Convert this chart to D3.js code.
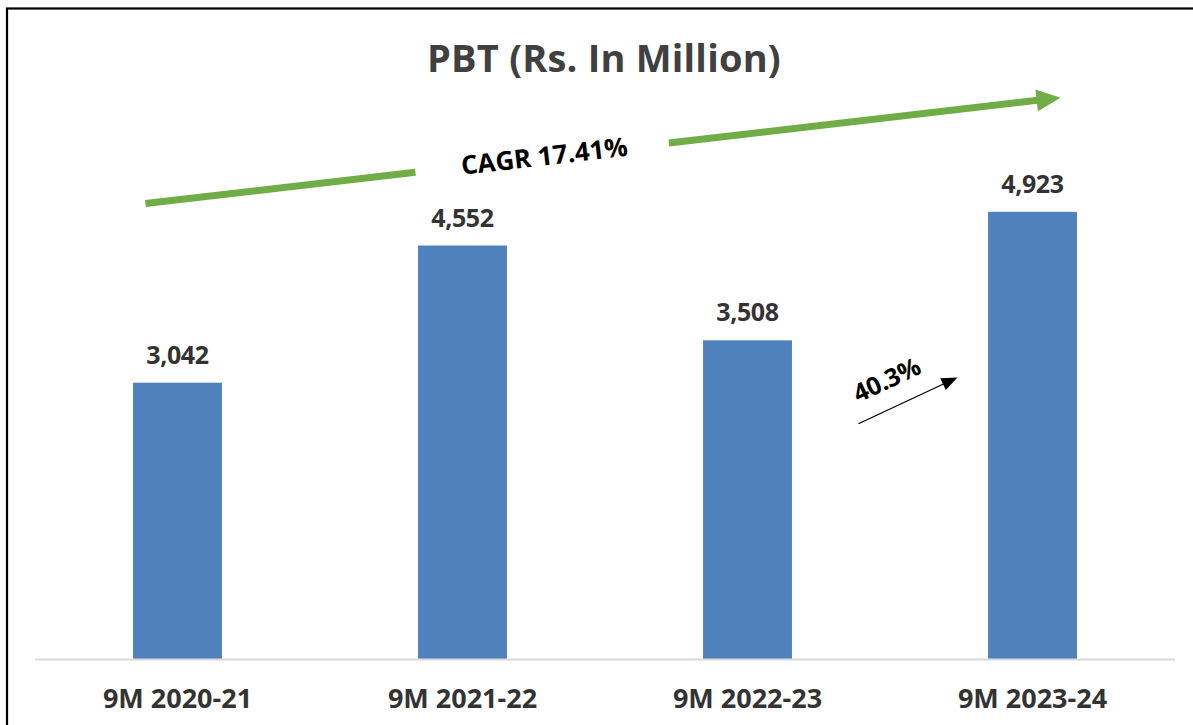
<!DOCTYPE html>
<html>
<head>
<meta charset="utf-8">
<script src="https://cdn.jsdelivr.net/npm/d3@7"></script>
<style>
  html, body { margin: 0; padding: 0; background: #fff; }
  svg { display: block; font-family: "Open Sans", Lato, sans-serif; }
</style>
</head>
<body>
<div id="chart"></div>
<script>
const categories = ["9M 2020-21", "9M 2021-22", "9M 2022-23", "9M 2023-24"];
const pbtValues = [3042, 4552, 3508, 4923];
const titleText = "PBT (Rs. In Million)";
const cagrLabel = "CAGR 17.41%";
const growthLabel = "40.3%";

const width = 1193, height = 725;
const margin = { top: 114, right: 18, bottom: 66, left: 35 };
const innerW = width - margin.left - margin.right;
const innerH = height - margin.top - margin.bottom;

const svg = d3.select("#chart").append("svg").attr("width", width).attr("height", height);

// outer frame (cropped on the right and bottom)
svg.append("rect")
  .attr("x", 7).attr("y", 8.5)
  .attr("width", width + 20).attr("height", height + 20)
  .attr("fill", "none").attr("stroke", "#000").attr("stroke-width", 2.2);

const g = svg.append("g").attr("transform", `translate(${margin.left},${margin.top})`);

const x = d3.scaleBand().domain(categories).range([0, innerW]).paddingInner(0.688).paddingOuter(0.344);
const y = d3.scaleLinear().domain([0, 6000]).range([innerH, 0]);

g.selectAll("rect.bar")
  .data(pbtValues)
  .join("rect")
  .attr("class", "bar")
  .attr("x", (d, i) => x(categories[i]))
  .attr("width", x.bandwidth())
  .attr("y", (d) => y(d))
  .attr("height", (d) => innerH - y(d))
  .attr("fill", "#4f81bd");

// baseline
g.append("line")
  .attr("x1", 0).attr("x2", innerW)
  .attr("y1", innerH + 0.5).attr("y2", innerH + 0.5)
  .attr("stroke", "#d9d9d9").attr("stroke-width", 2);

// value labels
g.selectAll("text.val")
  .data(pbtValues)
  .join("text")
  .attr("class", "val")
  .attr("x", (d, i) => x(categories[i]) + x.bandwidth() / 2)
  .attr("y", (d) => y(d) - 19)
  .attr("text-anchor", "middle")
  .attr("font-size", 25).attr("font-weight", 700).attr("fill", "#333")
  .attr("letter-spacing", -0.4)
  .text(d3.format(","));

// category axis
const xAxis = g.append("g")
  .attr("transform", `translate(0,${innerH})`)
  .call(d3.axisBottom(x).tickSize(0).tickPadding(30));
xAxis.select(".domain").remove();
xAxis.selectAll("text")
  .attr("font-family", "'Open Sans', sans-serif")
  .attr("font-size", 27).attr("font-weight", 700).attr("fill", "#333");

// title
svg.append("text")
  .attr("x", 604).attr("y", 72)
  .attr("text-anchor", "middle")
  .attr("font-size", 38).attr("font-weight", 700).attr("fill", "#404040")
  .attr("letter-spacing", 0.2)
  .text(titleText);

// CAGR arrow (split around the label), placed in scale units
const px = (i, off) => x(categories[i]) + x.bandwidth() / 2 + off;
const a0 = [px(0, -32), y(5015)];
const a1 = [px(3, 28), y(6180)];
const lerp = (t) => [a0[0] + (a1[0] - a0[0]) * t, a0[1] + (a1[1] - a0[1]) * t];
const ang = Math.atan2(a1[1] - a0[1], a1[0] - a0[0]) * 180 / Math.PI;
const green = "#70ad47";

const gapStart = lerp(0.295), gapEnd = lerp(0.572);
g.append("line")
  .attr("x1", a0[0]).attr("y1", a0[1]).attr("x2", gapStart[0]).attr("y2", gapStart[1])
  .attr("stroke", green).attr("stroke-width", 7);
const headStart = lerp(0.975);
g.append("line")
  .attr("x1", gapEnd[0]).attr("y1", gapEnd[1]).attr("x2", headStart[0]).attr("y2", headStart[1])
  .attr("stroke", green).attr("stroke-width", 7);
g.append("path")
  .attr("transform", `translate(${a1[0]},${a1[1]}) rotate(${ang})`)
  .attr("d", "M0,0 L-24,-11 L-24,11 Z")
  .attr("fill", green);

const mid = lerp(0.437);
g.append("text")
  .attr("transform", `translate(${mid[0]},${mid[1] + 8}) rotate(${ang})`)
  .attr("text-anchor", "middle")
  .attr("font-size", 26).attr("font-weight", 700).attr("fill", "#000")
  .text(cagrLabel);

// growth arrow between the last two bars
const b0 = [px(2, 111), y(2590)];
const b1 = [px(3, -75), y(3100)];
const bAng = Math.atan2(b1[1] - b0[1], b1[0] - b0[0]) * 180 / Math.PI;
g.append("line")
  .attr("x1", b0[0]).attr("y1", b0[1])
  .attr("x2", b1[0] - 12 * Math.cos(bAng * Math.PI / 180))
  .attr("y2", b1[1] - 12 * Math.sin(bAng * Math.PI / 180))
  .attr("stroke", "#000").attr("stroke-width", 1.3);
g.append("path")
  .attr("transform", `translate(${b1[0]},${b1[1]}) rotate(${bAng})`)
  .attr("d", "M0,0 L-16,-6.5 L-16,6.5 Z")
  .attr("fill", "#000");
g.append("text")
  .attr("transform", `translate(${px(2, 143)},${y(2985)}) rotate(${bAng})`)
  .attr("text-anchor", "middle")
  .attr("font-size", 25).attr("font-weight", 700).attr("fill", "#000")
  .attr("letter-spacing", -0.3)
  .text(growthLabel);
</script>
</body>
</html>
